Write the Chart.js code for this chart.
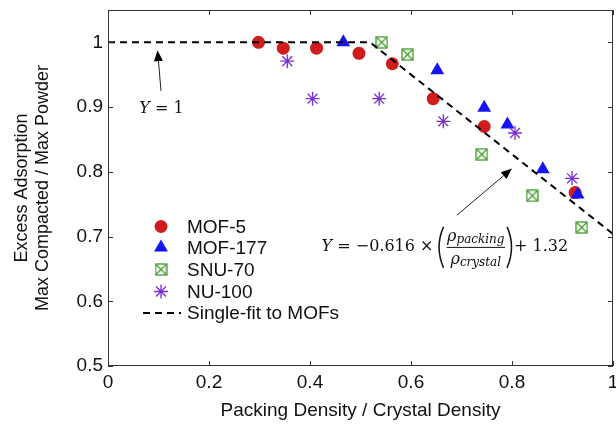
<!DOCTYPE html>
<html>
<head>
<meta charset="utf-8">
<script src="https://cdn.jsdelivr.net/npm/chart.js@4"></script>
<style>
  body { margin: 0; background: #fff; }
  #wrap { width: 616px; height: 430px; }
</style>
</head>
<body>
<div id="wrap"><canvas id="grafico" width="616" height="430"></canvas></div>
<script>
// data
const mof5X   = [0.298, 0.347, 0.413, 0.497, 0.563, 0.644, 0.745, 0.925];
const mof5Y   = [1.000, 0.991, 0.991, 0.983, 0.967, 0.913, 0.870, 0.768];
const mof177X = [0.466, 0.652, 0.745, 0.791, 0.861, 0.930];
const mof177Y = [1.000, 0.957, 0.899, 0.873, 0.804, 0.765];
const snu70X  = [0.542, 0.593, 0.740, 0.840, 0.938];
const snu70Y  = [1.000, 0.981, 0.827, 0.763, 0.714];
const nu100X  = [0.355, 0.405, 0.537, 0.664, 0.806, 0.919];
const nu100Y  = [0.971, 0.913, 0.913, 0.878, 0.860, 0.790];
const fitX    = [0, 0.519, 1];
const fitY    = [1, 1, 0.704];
const xTicks  = [0, 0.2, 0.4, 0.6, 0.8, 1];
const yTicks  = [0.5, 0.6, 0.7, 0.8, 0.9, 1];
const nomes   = ['MOF-5', 'MOF-177', 'SNU-70', 'NU-100', 'Single-fit to MOFs'];

const FONTE = '"Liberation Sans", Arial, sans-serif';
const pares = (xs, ys) => xs.map((x, i) => ({ x, y: ys[i] }));

// green square with an X
const caixa = document.createElement('canvas');
caixa.width = 13; caixa.height = 13;
(() => {
  const c = caixa.getContext('2d');
  c.strokeStyle = '#3f9a2a'; c.lineWidth = 1.3;
  c.strokeRect(1, 1, 11, 11);
  c.beginPath();
  c.moveTo(1.5, 1.5); c.lineTo(11.5, 11.5);
  c.moveTo(11.5, 1.5); c.lineTo(1.5, 11.5);
  c.stroke();
})();

const moldura = {
  id: 'moldura',
  afterDatasetsDraw(chart) {
    const { ctx, chartArea: a, scales } = chart;
    const xs = scales.x, ys = scales.y;
    ctx.save();
    ctx.strokeStyle = '#333'; ctx.lineWidth = 1;
    ctx.strokeRect(a.left + 0.5, a.top + 0.5, a.right - a.left - 1, a.bottom - a.top - 1);
    ctx.beginPath();
    xTicks.forEach(v => {
      const p = Math.round(xs.getPixelForValue(v)) + 0.5;
      ctx.moveTo(p, a.bottom); ctx.lineTo(p, a.bottom - 5);
      ctx.moveTo(p, a.top); ctx.lineTo(p, a.top + 5);
    });
    yTicks.forEach(v => {
      const p = Math.round(ys.getPixelForValue(v)) + 0.5;
      ctx.moveTo(a.left, p); ctx.lineTo(a.left + 5, p);
      ctx.moveTo(a.right, p); ctx.lineTo(a.right - 5, p);
    });
    ctx.stroke();

    // legend
    const lx = 161, tx = 187;
    const linhas = [226.5, 247.5, 269.5, 291.5, 313];
    ctx.font = '19px ' + FONTE;
    ctx.textBaseline = 'middle'; ctx.textAlign = 'left';
    chart.data.datasets.forEach((ds, i) => {
      const y = linhas[i];
      if (ds.showLine) {
        ctx.save();
        ctx.strokeStyle = '#000'; ctx.lineWidth = 2; ctx.setLineDash([7, 5]);
        ctx.beginPath(); ctx.moveTo(143, y); ctx.lineTo(181, y); ctx.stroke();
        ctx.restore();
      } else {
        ctx.save();
        ctx.fillStyle = ds.backgroundColor; ctx.strokeStyle = ds.borderColor;
        ctx.lineWidth = ds.borderWidth;
        Chart.helpers.drawPoint(ctx, {
          pointStyle: ds.pointStyle, radius: ds.pointRadius, rotation: 0,
          borderWidth: ds.borderWidth
        }, lx, y);
        ctx.restore();
      }
      ctx.fillStyle = '#111';
      ctx.fillText(ds.label, tx, y + 1);
    });

    // annotation: Y = 1
    seta(ctx, xs.getPixelForValue(0.105), ys.getPixelForValue(0.925),
              xs.getPixelForValue(0.098), ys.getPixelForValue(0.988));
    ctx.font = 'italic 16px "DejaVu Serif", serif';
    ctx.textAlign = 'left'; ctx.fillStyle = '#111';
    let x0 = xs.getPixelForValue(0.062), y0 = ys.getPixelForValue(0.898);
    ctx.fillText('Y', x0, y0); x0 += ctx.measureText('Y').width;
    ctx.font = '16px "DejaVu Serif", serif';
    ctx.fillText(' = 1', x0, y0);

    // annotation: fit equation
    seta(ctx, xs.getPixelForValue(0.691), ys.getPixelForValue(0.733),
              xs.getPixelForValue(0.800), ys.getPixelForValue(0.805));
    equacao(ctx, xs.getPixelForValue(0.423), ys.getPixelForValue(0.684));
    ctx.restore();
  }
};

function seta(ctx, x1, y1, x2, y2) {
  const ang = Math.atan2(y2 - y1, x2 - x1);
  const L = 11, W = 4.5;
  const bx = x2 - L * Math.cos(ang), by = y2 - L * Math.sin(ang);
  ctx.strokeStyle = '#222'; ctx.lineWidth = 1;
  ctx.beginPath(); ctx.moveTo(x1, y1); ctx.lineTo(bx, by); ctx.stroke();
  ctx.fillStyle = '#000';
  ctx.beginPath();
  ctx.moveTo(x2, y2);
  ctx.lineTo(bx + W * Math.sin(ang), by - W * Math.cos(ang));
  ctx.lineTo(bx - W * Math.sin(ang), by + W * Math.cos(ang));
  ctx.closePath(); ctx.fill();
}

function equacao(ctx, x, y) {
  const serif = '"DejaVu Serif", serif';
  ctx.fillStyle = '#111'; ctx.textBaseline = 'middle'; ctx.textAlign = 'left';
  ctx.font = 'italic 16px ' + serif;
  ctx.fillText('Y', x, y); x += ctx.measureText('Y').width;
  ctx.font = '16px ' + serif;
  const s = ' = \u22120.616 \u00d7 ';
  ctx.fillText(s, x, y); x += ctx.measureText(s).width;
  parentese(ctx, x + 5, y, -1); x += 8;
  const parte = (base, sub) => {
    ctx.font = 'italic 16px ' + serif; const w1 = ctx.measureText(base).width;
    ctx.font = 'italic 12px ' + serif; const w2 = ctx.measureText(sub).width;
    return { w1, w2, w: w1 + w2 };
  };
  const num = parte('\u03c1', 'packing'), den = parte('\u03c1', 'crystal');
  const w = Math.max(num.w, den.w) + 1;
  const escreve = (p, base, sub, cy) => {
    const sx = x + (w - p.w) / 2;
    ctx.font = 'italic 16px ' + serif; ctx.fillText(base, sx, cy);
    ctx.font = 'italic 12px ' + serif; ctx.fillText(sub, sx + p.w1, cy + 3);
  };
  escreve(num, '\u03c1', 'packing', y - 10);
  escreve(den, '\u03c1', 'crystal', y + 13);
  ctx.strokeStyle = '#111'; ctx.lineWidth = 1;
  ctx.beginPath(); ctx.moveTo(x, y + 0.5); ctx.lineTo(x + w, y + 0.5); ctx.stroke();
  x += w;
  parentese(ctx, x + 2, y, 1); x += 9;
  ctx.font = '16px ' + serif;
  ctx.fillText('+ 1.32', x, y);
}

function parentese(ctx, x, y, lado) {
  ctx.strokeStyle = '#111'; ctx.lineWidth = 1.5;
  ctx.beginPath();
  ctx.moveTo(x, y - 20);
  ctx.quadraticCurveTo(x + lado * 9, y, x, y + 21);
  ctx.stroke();
}

new Chart(document.getElementById('grafico'), {
  type: 'scatter',
  data: {
    datasets: [
      { label: nomes[0], data: pares(mof5X, mof5Y), pointStyle: 'circle', pointRadius: 6.5,
        backgroundColor: '#d01c1c', borderColor: '#d01c1c', borderWidth: 0, order: 4 },
      { label: nomes[1], data: pares(mof177X, mof177Y), pointStyle: 'triangle', pointRadius: 8,
        backgroundColor: '#1414f5', borderColor: '#1414f5', borderWidth: 0, order: 3 },
      { label: nomes[2], data: pares(snu70X, snu70Y), pointStyle: caixa, pointRadius: 6.5,
        backgroundColor: '#3f9a2a', borderColor: '#3f9a2a', borderWidth: 0, order: 2 },
      { label: nomes[3], data: pares(nu100X, nu100Y), pointStyle: 'star', pointRadius: 7,
        backgroundColor: '#7a2fd6', borderColor: '#7a2fd6', borderWidth: 1.3, order: 1 },
      { label: nomes[4], data: pares(fitX, fitY), showLine: true, pointRadius: 0,
        borderColor: '#000', borderWidth: 2, borderDash: [7, 5], order: 0 }
    ]
  },
  options: {
    responsive: false,
    animation: false,
    devicePixelRatio: 1,
    layout: { autoPadding: false, padding: { top: 10, right: 3, left: 0, bottom: 0 } },
    plugins: { legend: { display: false }, tooltip: { enabled: false } },
    scales: {
      x: {
        type: 'linear', min: 0, max: 1,
        afterBuildTicks: s => { s.ticks = xTicks.map(v => ({ value: v })); },
        afterFit: s => { s.height = 64; s.paddingLeft = 0; s.paddingRight = 0; },
        grid: { display: false, drawTicks: false },
        border: { display: false },
        ticks: { color: '#111', padding: 5, font: { family: FONTE, size: 19 },
                 maxRotation: 0, callback: v => String(+v.toFixed(1)) },
        title: { display: true, text: 'Packing Density / Crystal Density', color: '#111',
                 font: { family: FONTE, size: 19 }, padding: { top: 3, bottom: 8 } }
      },
      y: {
        type: 'linear', min: 0.5, max: 1.05,
        afterBuildTicks: s => { s.ticks = yTicks.map(v => ({ value: v })); },
        afterFit: s => { s.width = 108; s.paddingTop = 0; s.paddingBottom = 0; },
        grid: { display: false, drawTicks: false },
        border: { display: false },
        ticks: { color: '#111', padding: 5, font: { family: FONTE, size: 19 },
                 callback: v => String(+v.toFixed(1)) },
        title: { display: true, text: ['Excess Adsorption', 'Max Compacted / Max Powder'],
                 color: '#111', font: { family: FONTE, size: 18, lineHeight: 1.15 },
                 padding: { top: 12, bottom: 0 } }
      }
    }
  },
  plugins: [moldura]
});
</script>
</body>
</html>
